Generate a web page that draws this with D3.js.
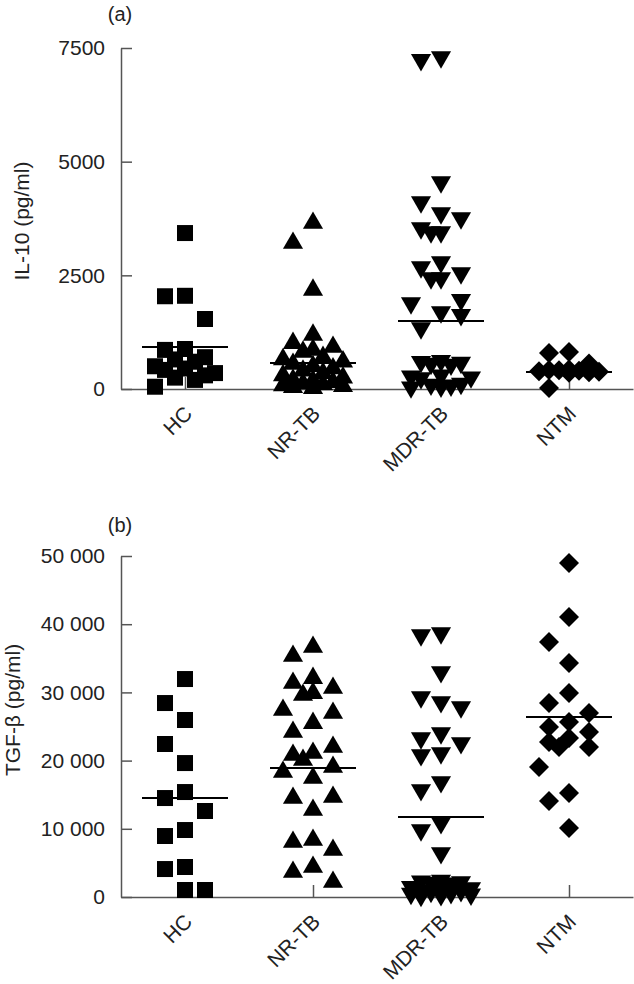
<!DOCTYPE html>
<html>
<head>
<meta charset="utf-8">
<script src="https://cdn.jsdelivr.net/npm/d3@7"></script>
<style>
  body { margin: 0; background: #fff; }
  svg { display: block; }
  text { font-family: "Liberation Sans", Arial, sans-serif; fill: #222; }
  .axis path, .axis line { stroke: #555; stroke-width: 1.5; }
</style>
</head>
<body>
<svg width="634" height="984"></svg>
<script>
// groups on the x axis
const categories = ["HC", "NR-TB", "MDR-TB", "NTM"];

// panel (a) IL-10, pg/ml
const il10HC = [3430, 2050, 2040, 1540, 880, 860, 700, 650, 600, 500, 450, 420, 350, 300, 250, 200, 50];
const il10NRTB = [3650, 3210, 2180, 1190, 1010, 924, 860, 815, 700, 650, 600, 550, 500, 450, 400, 350, 300, 250, 200, 180, 150, 120, 100, 80, 60, 40, 20];
const il10MDRTB = [7300, 7240, 4550, 4110, 3870, 3760, 3540, 3450, 3450, 2790, 2680, 2550, 2440, 2440, 1960, 1890, 1690, 1630, 1340,
                   620, 600, 580, 560, 540, 300, 280, 260, 240, 120, 100, 80, 60, 40];
const il10NTM = [814, 790, 560, 430, 420, 410, 400, 390, 380, 370, 360, 20];
const il10Means = [924, 572, 1496, 374];
const il10Ticks = [0, 2500, 5000, 7500];
const il10TickLabels = ["0", "2500", "5000", "7500"];

// panel (b) TGF-beta, pg/ml
const tgfHC = [31960, 28440, 25950, 22430, 19640, 15390, 14510, 12610, 9820, 8940, 4400, 4100, 1030, 1030];
const tgfNRTB = [36650, 35330, 32100, 31370, 30640, 29900, 29610, 27410, 26970, 25500, 24190, 21990, 21110, 20820, 20080,
                 19060, 18320, 17450, 14660, 14510, 12750, 8360, 8060, 6890, 4400, 3660, 2200];
const tgfMDRTB = [38700, 38410, 32990, 29320, 28590, 27850, 24040, 23310, 22580, 21110, 20820, 16860, 15690, 10850, 9820, 6450,
                  2400, 2300, 2200, 2100, 2000, 1500, 1300, 1100, 1000, 900, 800, 600, 500, 400, 300, 200];
const tgfNTM = [48970, 41050, 37380, 34300, 29900, 28440, 26970, 25650, 24920, 24190, 23310, 22720, 21990, 21990, 19060, 15250, 14070, 10110];
const tgfMeans = [14516, 18900, 11730, 26393];
const tgfTicks = [0, 10000, 20000, 30000, 40000, 50000];
const tgfTickLabels = ["0", "10\u00a0000", "20\u00a0000", "30\u00a0000", "40\u00a0000", "50\u00a0000"];

const svg = d3.select("svg");
const left = 121, right = 633;
const fontSize = "21px";

// marker per group: square, triangle, inverted triangle, diamond
const symbols = [
  {type: d3.symbolSquare, size: 256, rot: 0},
  {type: d3.symbolTriangle, size: 175, rot: 0},
  {type: d3.symbolTriangle, size: 175, rot: 180},
  {type: d3.symbolSquare, size: 200, rot: 45}
];

// column scatter: put each point (top down) in the first slot that is free,
// or in the least crowded slot once the group gets dense
const slots = [0, -20, 20, -10, 10, -30, 30];
function dodge(values, y, rowH, colW) {
  const pts = values.map(v => ({v: v, py: y(v)})).sort((a, b) => a.py - b.py);
  const placed = [];
  pts.forEach(p => {
    let best = null, bestD = -1;
    for (const s of slots) {
      let dmin = Infinity;
      placed.forEach(q => {
        const d = Math.max(Math.abs(q.dx - s) / colW, Math.abs(q.py - p.py) / rowH);
        if (d < dmin) dmin = d;
      });
      if (dmin >= 1) { best = s; break; }
      if (dmin > bestD) { bestD = dmin; best = s; }
    }
    p.dx = best;
    placed.push(p);
  });
  return pts;
}

function drawPanel(cfg) {
  const x = d3.scalePoint().domain(categories).range([left, right]).padding(0.5);
  const y = d3.scaleLinear().domain(cfg.domain).range([cfg.bottom, cfg.top]);
  const g = svg.append("g");

  g.append("g")
    .attr("class", "axis")
    .attr("transform", "translate(0," + cfg.bottom + ")")
    .call(d3.axisBottom(x).tickSizeInner(-12).tickSizeOuter(0))
    .call(a => a.selectAll("text")
      .attr("x", 0).attr("y", 0).attr("dy", null)
      .attr("text-anchor", "end")
      .attr("transform", "translate(8,26) rotate(-45)")
      .style("font-size", fontSize));

  g.append("g")
    .attr("class", "axis")
    .attr("transform", "translate(" + left + ",0)")
    .call(d3.axisLeft(y).tickValues(cfg.ticks).tickFormat((d, i) => cfg.labels[i])
      .tickSizeInner(-11).tickSizeOuter(0).tickPadding(16))
    .call(a => a.selectAll("text").style("font-size", fontSize));

  g.append("text")
    .attr("transform", "translate(" + cfg.titleX + "," + cfg.titleY + ") rotate(-90)")
    .attr("text-anchor", "middle")
    .attr("dy", "0.35em")
    .style("font-size", fontSize)
    .text(cfg.title);

  g.append("text")
    .attr("x", 120).attr("y", cfg.tagY)
    .attr("text-anchor", "middle")
    .attr("dy", "0.35em")
    .style("font-size", "20px")
    .text(cfg.tag);

  cfg.series.forEach((vals, i) => {
    const cx = x(categories[i]);
    const sym = symbols[i];
    const pts = dodge(vals, y, 26, 18);
    g.append("g").selectAll("path")
      .data(pts)
      .enter().append("path")
      .attr("d", d3.symbol().type(sym.type).size(sym.size))
      .attr("transform", d => "translate(" + (cx + d.dx) + "," + d.py + ") rotate(" + sym.rot + ")")
      .attr("fill", "#000");
    g.append("line")
      .attr("x1", cx - 43).attr("x2", cx + 43)
      .attr("y1", y(cfg.means[i])).attr("y2", y(cfg.means[i]))
      .attr("stroke", "#000")
      .attr("stroke-width", 2);
  });
}

drawPanel({
  domain: [0, 7500], top: 48, bottom: 389,
  ticks: il10Ticks, labels: il10TickLabels,
  series: [il10HC, il10NRTB, il10MDRTB, il10NTM], means: il10Means,
  title: "IL-10 (pg/ml)", titleX: 22, titleY: 221,
  tag: "(a)", tagY: 14
});

drawPanel({
  domain: [0, 50000], top: 556, bottom: 897,
  ticks: tgfTicks, labels: tgfTickLabels,
  series: [tgfHC, tgfNRTB, tgfMDRTB, tgfNTM], means: tgfMeans,
  title: "TGF-\u03b2 (pg/ml)", titleX: 13, titleY: 710,
  tag: "(b)", tagY: 525
});
</script>
</body>
</html>
